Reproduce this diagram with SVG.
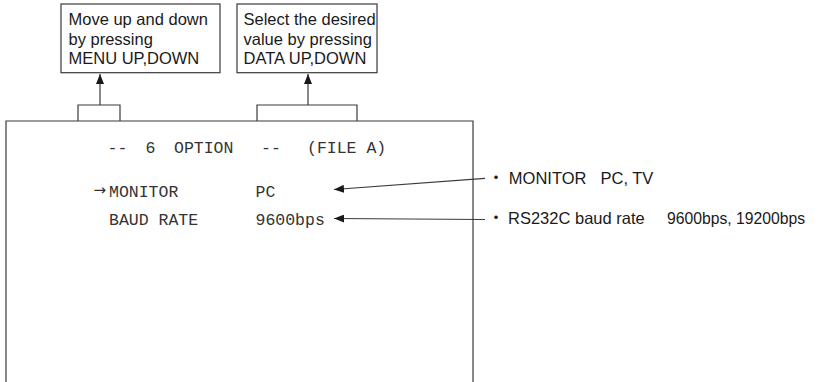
<svg xmlns="http://www.w3.org/2000/svg" width="823" height="382" viewBox="0 0 823 382">
<defs>
<style>
.ln{fill:none;stroke:#3a3a3a;stroke-width:1.2}
.box{fill:#fff;stroke:#3a3a3a;stroke-width:1.2}
.sans{font-family:"Liberation Sans",Arial,sans-serif;font-size:16.5px;fill:#1a1a1a}
.mono{font-family:"Liberation Mono","Courier New",monospace;font-size:16.5px;fill:#333}
.arr{font-family:"DejaVu Sans",sans-serif;font-size:15px;fill:#333}
.dot{font-family:"Noto Sans CJK JP",sans-serif;font-size:16.5px;fill:#1a1a1a}
</style>
<marker id="ah" viewBox="0 0 10 8" refX="10" refY="4" markerWidth="10" markerHeight="8" markerUnits="userSpaceOnUse" orient="auto">
<path d="M0,0 L10,4 L0,8 Z" fill="#1a1a1a"/>
</marker>
</defs>
<g id="screen">
<path class="ln" d="M6,382 V121 H473 V382"/>
<text class="mono" x="107.5" y="153">--</text>
<text class="mono" x="145.5" y="153">6</text>
<text class="mono" x="174" y="153">OPTION</text>
<text class="mono" x="261" y="153">--</text>
<text class="mono" x="307" y="153">(FILE A)</text>
<text class="arr" x="93.5" y="195">→</text>
<text class="mono" x="109" y="197">MONITOR</text>
<text class="mono" x="255.5" y="197">PC</text>
<text class="mono" x="109" y="224.5">BAUD RATE</text>
<text class="mono" x="255.5" y="224.5">9600bps</text>
</g>
<g id="note-menu">
<rect class="box" x="61" y="4" width="159" height="68.7"/>
<text class="sans" x="68.5" y="25">Move up and down</text>
<text class="sans" x="68.5" y="44.5">by pressing</text>
<text class="sans" x="68.5" y="63.5">MENU UP,DOWN</text>
</g>
<g id="note-data">
<rect class="box" x="237" y="4" width="140" height="68.7"/>
<text class="sans" x="243.5" y="25">Select the desired</text>
<text class="sans" x="243.5" y="44.5">value by pressing</text>
<text class="sans" x="243.5" y="63.5">DATA UP,DOWN</text>
</g>
<g id="label-monitor">
<text class="dot" x="487.7" y="183.5">・</text>
<text class="sans" x="508.8" y="183.5">MONITOR</text>
<text class="sans" x="600.5" y="183.5">PC, TV</text>
</g>
<g id="label-baud">
<text class="dot" x="487.7" y="223.5">・</text>
<text class="sans" x="508" y="223.5">RS232C baud rate</text>
<text class="sans" x="667" y="223.5" textLength="138" lengthAdjust="spacingAndGlyphs">9600bps, 19200bps</text>
</g>
<g id="connectors">
<path class="ln" d="M78,121 V105 H120 V121"/>
<path class="ln" d="M257,121 V105 H357 V121"/>
<path class="ln" d="M100,105 V74" marker-end="url(#ah)"/>
<path class="ln" d="M308,105 V74" marker-end="url(#ah)"/>
<path class="ln" d="M485,178.3 L334,189.5" marker-end="url(#ah)"/>
<path class="ln" d="M485,219.5 L334,218.5" marker-end="url(#ah)"/>
</g>
</svg>
